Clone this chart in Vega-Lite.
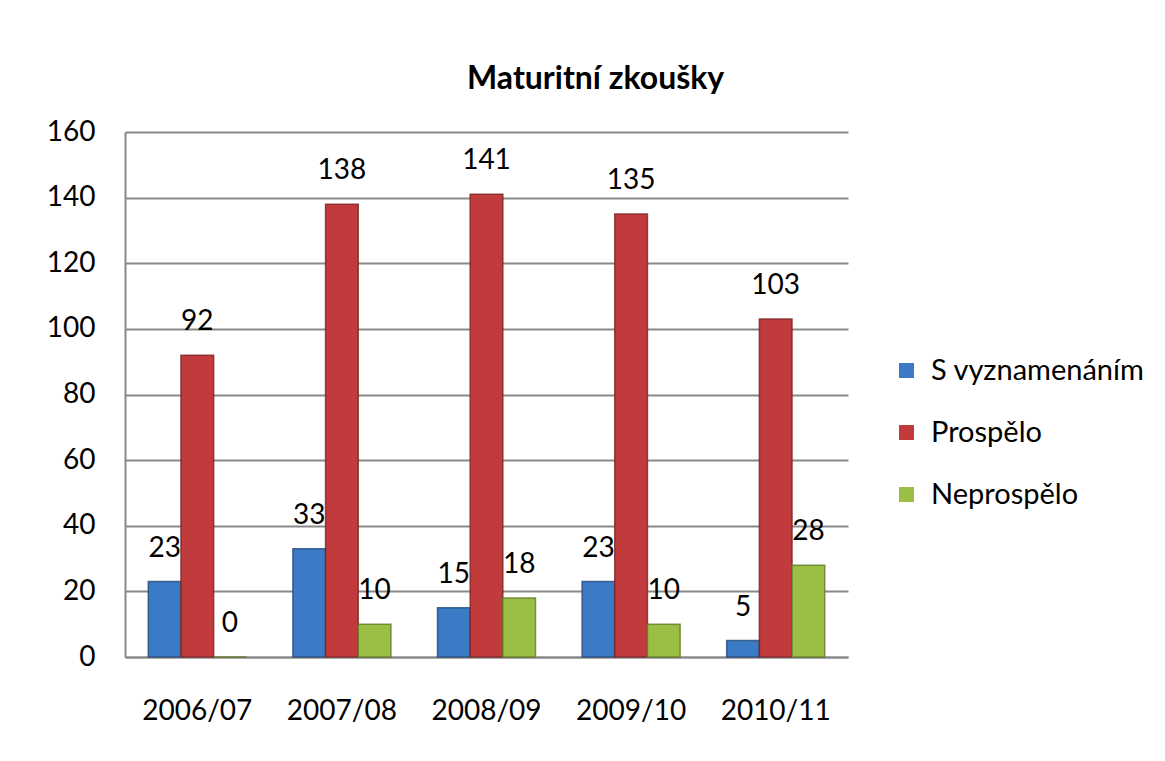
{
  "$schema": "https://vega.github.io/schema/vega-lite/v6.json",
  "width": 723,
  "height": 525,
  "autosize": "none",
  "padding": {"left": 125, "top": 132, "right": 317, "bottom": 104},
  "background": "white",
  "title": {
    "text": "Maturitní zkoušky",
    "font": "Lato",
    "fontSize": 32,
    "fontWeight": "bold",
    "color": "black",
    "anchor": "middle",
    "frame": "bounds",
    "offset": 22
  },
  "data": {
    "values": [
      {"rok": "2006/07", "vysledek": "S vyznamenáním", "pocet": 23},
      {"rok": "2006/07", "vysledek": "Prospělo", "pocet": 92},
      {"rok": "2006/07", "vysledek": "Neprospělo", "pocet": 0},
      {"rok": "2007/08", "vysledek": "S vyznamenáním", "pocet": 33},
      {"rok": "2007/08", "vysledek": "Prospělo", "pocet": 138},
      {"rok": "2007/08", "vysledek": "Neprospělo", "pocet": 10},
      {"rok": "2008/09", "vysledek": "S vyznamenáním", "pocet": 15},
      {"rok": "2008/09", "vysledek": "Prospělo", "pocet": 141},
      {"rok": "2008/09", "vysledek": "Neprospělo", "pocet": 18},
      {"rok": "2009/10", "vysledek": "S vyznamenáním", "pocet": 23},
      {"rok": "2009/10", "vysledek": "Prospělo", "pocet": 135},
      {"rok": "2009/10", "vysledek": "Neprospělo", "pocet": 10},
      {"rok": "2010/11", "vysledek": "S vyznamenáním", "pocet": 5},
      {"rok": "2010/11", "vysledek": "Prospělo", "pocet": 103},
      {"rok": "2010/11", "vysledek": "Neprospělo", "pocet": 28}
    ]
  },
  "encoding": {
    "x": {
      "field": "rok",
      "type": "nominal",
      "title": null,
      "scale": {"paddingInner": 0.322, "paddingOuter": 0.161},
      "axis": {
        "labelAngle": 0,
        "ticks": false,
        "labelPadding": 40,
        "labelFont": "Lato",
        "labelFontSize": 28,
        "labelColor": "black",
        "domainColor": "#898989",
        "domainWidth": 2
      }
    },
    "xOffset": {
      "field": "vysledek",
      "type": "nominal",
      "sort": ["S vyznamenáním", "Prospělo", "Neprospělo"],
      "scale": {"paddingInner": 0, "paddingOuter": 0}
    },
    "y": {
      "field": "pocet",
      "type": "quantitative",
      "title": null,
      "scale": {"domain": [0, 160], "nice": false},
      "axis": {
        "values": [0, 20, 40, 60, 80, 100, 120, 140, 160],
        "ticks": false,
        "labelPadding": 30,
        "labelFont": "Lato",
        "labelFontSize": 28,
        "labelColor": "black",
        "domainColor": "#898989",
        "domainWidth": 2,
        "gridColor": "#898989",
        "gridWidth": 2
      }
    }
  },
  "layer": [
    {
      "mark": {"type": "text", "baseline": "alphabetic", "dy": -25, "font": "Lato", "fontSize": 28, "color": "black"},
      "encoding": {
        "text": {"field": "pocet", "type": "quantitative"}
      }
    },
    {
      "mark": {"type": "bar", "strokeWidth": 1.5, "strokeOpacity": 0.8},
      "encoding": {
        "color": {
          "field": "vysledek",
          "type": "nominal",
          "title": null,
          "scale": {
            "domain": ["S vyznamenáním", "Prospělo", "Neprospělo"],
            "range": ["#3b7ac5", "#c23b3c", "#9bbf45"]
          },
          "legend": {
            "orient": "none",
            "legendX": 767,
            "legendY": 224,
            "symbolType": "square",
            "symbolSize": 225,
            "symbolStrokeWidth": 0,
            "labelFont": "Lato",
            "labelFontSize": 29,
            "labelColor": "black",
            "labelOffset": 10,
            "rowPadding": 32,
            "labelLimit": 300
          }
        },
        "stroke": {
          "field": "vysledek",
          "type": "nominal",
          "scale": {
            "domain": ["S vyznamenáním", "Prospělo", "Neprospělo"],
            "range": ["#24497a", "#7a2223", "#5e7a25"]
          },
          "legend": null
        }
      }
    }
  ],
  "config": {
    "view": {"stroke": null}
  }
}
